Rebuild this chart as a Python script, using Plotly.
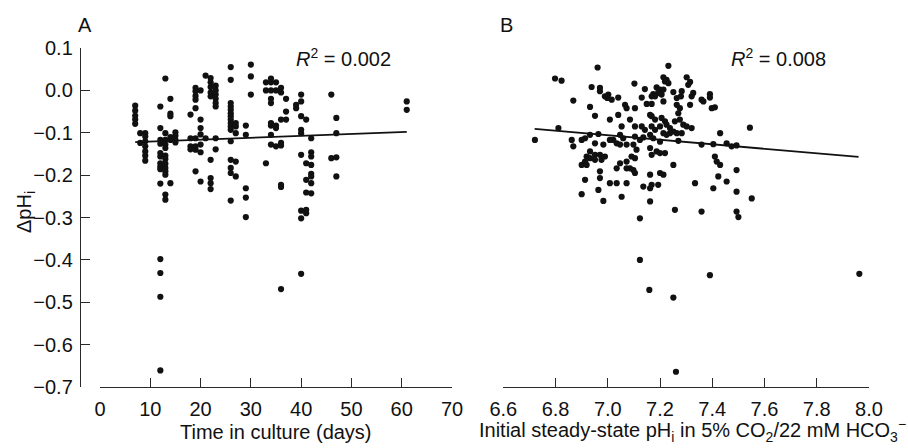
import plotly.graph_objects as go

# ---- Panel A: time in culture (days) vs delta pHi ----
days = [7, 7, 7, 7, 7,
        8, 8,
        9, 9, 9, 9, 9, 9, 9,
        12, 12, 12, 12, 12, 12, 12, 12, 12, 12, 12, 12, 12, 12,
        13, 13, 13, 13, 13, 13, 13, 13, 13, 13, 13, 13, 13,
        14, 14, 14, 14, 14, 14,
        15, 15, 15, 15,
        18, 18, 18, 18,
        19, 19, 19, 19, 19, 19, 19, 19, 19,
        20, 20, 20, 20, 20, 20, 20,
        21, 21,
        22, 22, 22, 22, 22, 22, 22, 22, 22,
        23, 23, 23, 23, 23, 23, 23, 23,
        26, 26, 26, 26, 26, 26, 26, 26, 26, 26, 26, 26, 26, 26, 26, 26,
        27, 27, 27, 27, 27,
        29, 29, 29, 29, 29,
        30, 30, 30,
        33, 33, 33,
        34, 34, 34, 34, 34, 34, 34, 34, 34,
        35, 35, 35, 35, 35,
        36, 36, 36, 36, 36, 36, 36, 36,
        37, 37, 37,
        39, 39,
        40, 40, 40, 40, 40, 40, 40, 40, 40,
        41, 41, 41, 41, 41, 41,
        42, 42, 42, 42, 42, 42, 42, 42,
        46, 46,
        47, 47, 47, 47,
        61, 61]
dph_a = [-0.036, -0.048, -0.060, -0.069, -0.079,
         -0.101, -0.124,
         -0.101, -0.109, -0.120, -0.132, -0.144, -0.154, -0.166,
         -0.038, -0.089, -0.117, -0.126, -0.148, -0.156, -0.172, -0.180, -0.186, -0.220, -0.398, -0.431, -0.487, -0.661,
         0.028, -0.101, -0.117, -0.128, -0.136, -0.154, -0.162, -0.173, -0.183, -0.191, -0.199, -0.246, -0.258,
         -0.020, -0.055, -0.061, -0.110, -0.117, -0.219,
         -0.099, -0.107, -0.117, -0.123,
         -0.057, -0.113, -0.132, -0.139,
         0.006, -0.002, -0.013, -0.022, -0.042, -0.113, -0.132, -0.140, -0.191,
         0.000, -0.069, -0.089, -0.104, -0.128, -0.146, -0.215,
         0.035, -0.113,
         0.029, 0.019, 0.008, -0.005, -0.014, -0.164, -0.207, -0.219, -0.233,
         0.011, 0.000, -0.010, -0.020, -0.030, -0.038, -0.113, -0.139,
         0.055, 0.025, -0.030, -0.038, -0.046, -0.054, -0.061, -0.069, -0.077, -0.085, -0.093, -0.120, -0.164, -0.183, -0.195, -0.260,
         -0.077, -0.085, -0.101, -0.168, -0.203,
         -0.083, -0.105, -0.231, -0.253, -0.299,
         0.061, 0.033, -0.010,
         -0.172, 0.019, 0.000,
         0.028, 0.019, 0.000, -0.020, -0.030, -0.077, -0.083, -0.105, -0.128,
         0.019, 0.000, -0.083, -0.089, -0.132,
         0.006, -0.005, -0.069, -0.124, -0.130, -0.223, -0.228, -0.469,
         -0.020, -0.050, -0.069,
         -0.034, -0.042,
         -0.010, -0.026, -0.061, -0.093, -0.101, -0.152, -0.302, -0.284, -0.433,
         -0.069, -0.172, -0.211, -0.241, -0.282, -0.290,
         -0.113, -0.146, -0.156, -0.176, -0.197, -0.203, -0.219, -0.243,
         -0.010, -0.160,
         -0.065, -0.101, -0.158, -0.203,
         -0.026, -0.046]
fit_a_x = [7, 61]
fit_a_y = [-0.122, -0.098]

# ---- Panel B: initial steady-state pHi vs delta pHi ----
phi_b = [
    # pHi below ~7.08
    6.961, 6.798, 6.823, 6.938, 6.970, 6.970, 6.989, 6.998, 7.002, 7.015, 7.040, 6.868, 6.932, 6.951, 7.008, 7.040,
    7.066, 7.072, 7.053, 6.811, 6.721, 6.862, 6.868, 6.900, 6.913, 6.932, 6.964, 7.008, 6.951, 6.983, 7.021, 7.034,
    7.047, 7.047, 7.059, 7.072, 6.932, 6.919, 6.913, 6.900, 6.932, 6.951, 6.970, 6.989, 6.976, 6.951, 6.919, 7.034,
    7.047, 7.072, 7.072, 6.970, 6.970, 6.913, 7.008, 7.034, 7.072, 6.900, 6.964, 6.983, 7.053,
    # pHi from ~7.08 upward
    7.232, 7.102, 7.142, 7.213, 7.219, 7.225, 7.232, 7.187, 7.200, 7.174, 7.168, 7.181, 7.193, 7.206, 7.213, 7.130,
    7.149, 7.168, 7.213, 7.251, 7.283, 7.280, 7.302, 7.315, 7.308, 7.327, 7.321, 7.315, 7.359, 7.366, 7.391, 7.391,
    7.398, 7.410, 7.264, 7.276, 7.270, 7.264, 7.104, 7.085, 7.104, 7.130, 7.142, 7.162, 7.168, 7.181, 7.206, 7.219,
    7.168, 7.181, 7.200, 7.225, 7.238, 7.257, 7.276, 7.289, 7.302, 7.321, 7.251, 7.264, 7.283, 7.213, 7.225, 7.238,
    7.104, 7.123, 7.136, 7.162, 7.174, 7.200, 7.270, 7.359, 7.404, 7.430, 7.455, 7.474, 7.493, 7.098, 7.110, 7.091,
    7.104, 7.162, 7.168, 7.187, 7.200, 7.219, 7.085, 7.098, 7.104, 7.136, 7.162, 7.168, 7.162, 7.193, 7.200, 7.213,
    7.251, 7.334, 7.410, 7.417, 7.430, 7.493, 7.423, 7.455, 7.404, 7.493, 7.162, 7.257, 7.359, 7.493,
    # scattered low and high values
    7.500, 7.123, 7.123, 7.159, 7.251, 7.261, 7.391, 7.963, 7.544, 7.551]
dph_b = [
    0.054, 0.028, 0.023, 0.008, 0.006, -0.002, -0.014, -0.018, -0.010, -0.022, -0.017, -0.024, -0.039, -0.060, -0.069, -0.058,
    -0.034, -0.042, -0.085, -0.089, -0.117, -0.117, -0.132, -0.117, -0.113, -0.105, -0.103, -0.117, -0.125, -0.128, -0.117, -0.125,
    -0.105, -0.128, -0.113, -0.128, -0.144, -0.156, -0.168, -0.176, -0.160, -0.152, -0.152, -0.156, -0.164, -0.164, -0.176, -0.184,
    -0.172, -0.168, -0.184, -0.191, -0.207, -0.211, -0.219, -0.219, -0.219, -0.245, -0.235, -0.261, -0.251,
    0.058, 0.016, 0.003, 0.031, 0.021, 0.025, 0.017, 0.007, 0.002, -0.009, -0.014, -0.014, -0.006, -0.010, 0.002, -0.017,
    -0.032, -0.032, -0.026, -0.004, -0.002, -0.014, 0.031, 0.020, 0.013, -0.006, -0.014, -0.034, -0.022, -0.026, -0.009, -0.017,
    -0.042, -0.040, -0.034, -0.042, -0.054, -0.018, -0.042, -0.069, -0.085, -0.085, -0.093, -0.058, -0.061, -0.069, -0.065, -0.073,
    -0.085, -0.093, -0.085, -0.081, -0.089, -0.073, -0.069, -0.081, -0.085, -0.089, -0.097, -0.101, -0.101, -0.101, -0.105, -0.101,
    -0.109, -0.117, -0.111, -0.105, -0.113, -0.121, -0.119, -0.128, -0.127, -0.101, -0.125, -0.132, -0.130, -0.128, -0.140, -0.156,
    -0.160, -0.136, -0.152, -0.144, -0.148, -0.148, -0.184, -0.188, -0.195, -0.227, -0.199, -0.223, -0.231, -0.223, -0.195, -0.199,
    -0.176, -0.219, -0.156, -0.168, -0.176, -0.188, -0.203, -0.215, -0.231, -0.239, -0.262, -0.282, -0.286, -0.286,
    -0.299, -0.302, -0.400, -0.471, -0.489, -0.664, -0.436, -0.433, -0.088, -0.255]
fit_b_x = [6.72, 7.96]
fit_b_y = [-0.091, -0.157]

# ---- figure geometry (paper fractions of a 908 x 448 canvas) ----
W, H = 908, 448
y_dom = [1 - 387 / H, 1 - 48 / H]
xa_dom = [100 / W, 452 / W]
xb_dom = [503.3 / W, 869 / W]

FONT = "Liberation Sans, Arial, Helvetica, sans-serif"
INK = "#111111"
AX = "#2a2a2a"
FS = 20

fig = go.Figure()
marker = dict(color=INK, size=6.2, line=dict(width=0))
fig.add_trace(go.Scatter(x=days, y=dph_a, mode="markers", marker=marker,
                         xaxis="x", yaxis="y", showlegend=False, cliponaxis=False))
fig.add_trace(go.Scatter(x=fit_a_x, y=fit_a_y, mode="lines",
                         line=dict(color=INK, width=1.8),
                         xaxis="x", yaxis="y", showlegend=False))
fig.add_trace(go.Scatter(x=phi_b, y=dph_b, mode="markers", marker=marker,
                         xaxis="x2", yaxis="y2", showlegend=False, cliponaxis=False))
fig.add_trace(go.Scatter(x=fit_b_x, y=fit_b_y, mode="lines",
                         line=dict(color=INK, width=1.8),
                         xaxis="x2", yaxis="y2", showlegend=False))

tickfont = dict(family=FONT, size=FS, color=INK)
common_x = dict(showline=True, linecolor=AX, linewidth=1.4, ticks="inside",
                ticklen=9, tickwidth=1.4, tickcolor=AX, showgrid=False,
                zeroline=False, tickfont=tickfont, ticklabelstandoff=4,
                automargin=False)

fig.update_layout(
    template="none",
    width=W, height=H,
    margin=dict(l=0, r=0, t=0, b=0, autoexpand=False),
    paper_bgcolor="white", plot_bgcolor="white",
    font=dict(family=FONT, color=INK),
    xaxis=dict(domain=xa_dom, range=[0, 70], tickvals=list(range(0, 71, 10)),
               anchor="y", **common_x),
    yaxis=dict(domain=y_dom, range=[-0.7, 0.1], anchor="free", position=80 / W,
               tickvals=[0.1, 0.0, -0.1, -0.2, -0.3, -0.4, -0.5, -0.6, -0.7],
               ticktext=["0.1", "0.0", "\u22120.1", "\u22120.2", "\u22120.3",
                         "\u22120.4", "\u22120.5", "\u22120.6", "\u22120.7"],
               showline=True, linecolor=AX, linewidth=1.4, ticks="inside",
               ticklen=9, tickwidth=1.4, tickcolor=AX, showgrid=False,
               zeroline=False, tickfont=tickfont, ticklabelstandoff=3,
               automargin=False),
    xaxis2=dict(domain=xb_dom, range=[6.6, 8.0],
                tickvals=[6.6, 6.8, 7.0, 7.2, 7.4, 7.6, 7.8, 8.0],
                ticktext=["6.6", "6.8", "7.0", "7.2", "7.4", "7.6", "7.8", "8.0"],
                anchor="y2", **common_x),
    yaxis2=dict(domain=y_dom, range=[-0.7, 0.1], anchor="x2", visible=False,
                automargin=False),
)

def note(text, x, y, size=FS, angle=0):
    fig.add_annotation(text=text, x=x / W, y=1 - y / H, xref="paper", yref="paper",
                       showarrow=False, textangle=angle,
                       font=dict(family=FONT, size=size, color=INK),
                       xanchor="center", yanchor="middle")

note("A", 85, 25)
note("B", 507, 25)
note("<i>R</i><sup>2</sup> = 0.002", 343, 58)
note("<i>R</i><sup>2</sup> = 0.008", 778, 58)
note("\u0394pH<sub>i</sub>", 25, 212, angle=-90)
note("Time in culture (days)", 276, 432)
note("Initial steady-state pH<sub>i</sub> in 5% CO<sub>2</sub>/22 mM HCO<sub>3</sub><sup>\u2212</sup>",
     692, 430)

fig.write_html("out.html")
